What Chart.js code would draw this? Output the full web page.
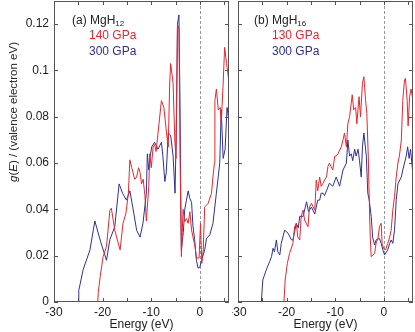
<!DOCTYPE html>
<html>
<head>
<meta charset="utf-8">
<script src="https://cdn.jsdelivr.net/npm/chart.js@4.4.0/dist/chart.umd.min.js"></script>
<style>
  body { margin: 0; background: #fff; }
  #wrap { position: relative; width: 415px; height: 332px; overflow: hidden;
          font-family: "Liberation Sans", Arial, sans-serif; color: #222; }
  #wrap canvas { position: absolute; top: 0; }
  #panelA { left: 0; }
  #panelB { left: 232px; }
  .txt { position: absolute; font-size: 12px; line-height: 14px; white-space: nowrap; }
  .txt sub { font-size: 8px; vertical-align: -2px; line-height: 0; }
  .red { color: rgb(232, 38, 45); }
  .blue { color: rgb(45, 48, 150); }
  #ytitle { position: absolute; left: -67px; top: 105px; width: 160px; height: 14px;
            font-size: 11.5px; line-height: 14px; text-align: center; transform: rotate(-90deg); }
</style>
</head>
<body>
<div id="wrap">
  <canvas id="panelA" width="232" height="332"></canvas>
  <canvas id="panelB" width="183" height="332"></canvas>
  <div id="ytitle"><i>g</i>(<i>E</i>) / (valence electron eV)</div>
  <div class="txt" style="left:72px;top:13px">(a) MgH<sub>12</sub></div>
  <div class="txt red" style="left:89px;top:28px">140 GPa</div>
  <div class="txt blue" style="left:89px;top:44px">300 GPa</div>
  <div class="txt" style="left:254px;top:13px">(b) MgH<sub>16</sub></div>
  <div class="txt red" style="left:272px;top:28px">130 GPa</div>
  <div class="txt blue" style="left:272px;top:44px">300 GPa</div>
</div>
<script>
// axes
const xTicks = [-30, -20, -10, 0];
const xTickLabels = ['-30', '-20', '-10', '0'];
const xMinorTicks = [-30, -25, -20, -15, -10, -5, 0, 5];
const yTicks = [0, 0.02, 0.04, 0.06, 0.08, 0.1, 0.12];
const yTickLabels = ['0', '0.02', '0.04', '0.06', '0.08', '0.1', '0.12'];

const RED = 'rgb(232, 38, 45)';
const BLUE = 'rgb(45, 48, 150)';

// (a) MgH12, 140 GPa
const eA140 = [-30, -21.0, -20.9, -20.5, -19.9, -19.2, -18.5, -18.2, -17.5, -16.4, -15.8, -15.2, -14.7, -14.4, -14.0,
  -13.4, -13.0, -12.6, -12.3, -12.0, -11.65, -11.3, -11.0, -10.5, -10.3, -10.0, -9.6, -9.3, -9.0, -8.6, -7.9, -7.4,
  -6.85, -6.5, -6.2, -6.0, -5.5, -5.15, -4.9, -4.6, -4.3, -4.05, -3.8, -3.45, -3.1, -2.75, -2.4, -2.05, -1.7, -1.0,
  -0.7, -0.15, 0.14, 0.4, 0.7, 1.0, 1.7, 2.4, 2.7, 3.0, 3.1, 3.4, 3.8, 4.2, 4.4, 4.8, 5.1, 5.5, 6.0];
const gA140 = [0, 0, 0.004, 0.011, 0.0196, 0.024, 0.0397, 0.0405, 0.031, 0.0225, 0.034, 0.0384, 0.047, 0.0614, 0.058,
  0.053, 0.054, 0.058, 0.056, 0.051, 0.053, 0.046, 0.035, 0.05, 0.064, 0.058, 0.067, 0.068, 0.065, 0.073, 0.087, 0.084,
  0.073, 0.067, 0.0945, 0.103, 0.0945, 0.07, 0.062, 0.12, 0.118, 0.06, 0.0196, 0.04, 0.0347, 0.036, 0.034, 0.039, 0.031, 0.024,
  0.019, 0.019, 0.034, 0.0167, 0.0225, 0.041, 0.0426, 0.047, 0.054, 0.06, 0.087, 0.092, 0.083, 0.084, 0.077, 0.0945, 0.11, 0.103, 0.095];

// (a) MgH12, 300 GPa
const eA300 = [-30, -25.0, -24.9, -24.0, -22.6, -21.6, -20.4, -19.2, -18.5, -17.5, -16.6, -15.9, -15.1, -14.4, -13.8,
  -13.0, -12.3, -11.7, -11.0, -10.8, -10.5, -10.2, -9.9, -9.3, -8.6, -7.9, -7.6, -7.2, -6.9, -6.5, -6.0, -5.5, -5.1,
  -4.8, -4.6, -4.3, -4.1, -3.9, -3.8, -3.4, -3.1, -2.75, -2.4, -2.1, -1.7, -1.4, -1.07, -0.7, -0.37, 0.0, 0.33, 1.0,
  1.38, 2.05, 2.7, 3.4, 4.1, 4.4, 4.8, 5.2, 5.6, 6.0];
const gA300 = [0, 0, 0.005, 0.014, 0.0225, 0.035, 0.026, 0.018, 0.027, 0.0325, 0.051, 0.047, 0.044, 0.048, 0.041,
  0.031, 0.028, 0.034, 0.047, 0.064, 0.057, 0.063, 0.067, 0.069, 0.066, 0.069, 0.063, 0.052, 0.056, 0.073, 0.072, 0.063, 0.047,
  0.08, 0.12, 0.124, 0.09, 0.04, 0.0225, 0.03, 0.04, 0.044, 0.048, 0.045, 0.043, 0.0325, 0.027, 0.018, 0.0146, 0.015, 0.018, 0.0225,
  0.0275, 0.029, 0.034, 0.047, 0.06, 0.083, 0.062, 0.066, 0.084, 0.078];

// (b) MgH16, 130 GPa
const eB130 = [-30, -20.55, -20.3, -19.85, -19.4, -18.7, -18.35, -18.0, -17.7, -17.3, -17.0, -16.6, -16.3, -15.6, -15.3,
  -14.9, -14.2, -13.9, -13.6, -13.2, -12.9, -12.5, -12.2, -11.8, -11.5, -11.2, -10.5, -10.1, -9.8, -9.45, -8.75, -8.4,
  -8.1, -7.7, -7.4, -7.05, -6.7, -6.5, -6.2, -5.8, -5.55, -5.1, -4.8, -4.4, -4.1, -3.75, -3.5, -3.2, -2.95, -2.8, -2.6,
  -1.9, -1.6, -1.2, -0.9, -0.55, -0.35, 0.0, 0.35, 0.8, 1.2, 1.5, 1.85, 2.2, 2.55, 2.9, 3.2, 3.6, 3.9, 4.25, 4.45, 4.8,
  5.0, 5.3, 5.6, 6.0];
const gB130 = [0, 0, 0.0095, 0.0167, 0.021, 0.0253, 0.0325, 0.034, 0.028, 0.0268, 0.037, 0.0397, 0.0354, 0.0325, 0.041,
  0.0426, 0.0397, 0.0527, 0.048, 0.054, 0.05, 0.0513, 0.0527, 0.054, 0.0585, 0.06, 0.057, 0.063, 0.063, 0.064, 0.067, 0.07,
  0.073, 0.067, 0.077, 0.08, 0.086, 0.0895, 0.083, 0.084, 0.077, 0.0887, 0.08, 0.0945, 0.0973, 0.087, 0.0815, 0.063, 0.0397, 0.028, 0.0196,
  0.021, 0.0253, 0.0275, 0.0325, 0.034, 0.025, 0.023, 0.0225, 0.0253, 0.028, 0.031, 0.0397, 0.0455, 0.054, 0.06, 0.063, 0.07, 0.087, 0.096, 0.0966, 0.087,
  0.076, 0.0887, 0.092, 0.087];

// (b) MgH16, 300 GPa
const eB300 = [-30, -25.2, -24.9, -24.2, -23.5, -23.1, -22.8, -22.5, -22.1, -21.8, -21.4, -21.1, -20.4, -19.7, -19.0,
  -18.7, -18.0, -17.6, -17.3, -16.6, -15.9, -15.5, -14.9, -14.2, -13.6, -13.2, -12.9, -12.5, -12.2, -11.8, -11.2, -10.5,
  -9.8, -9.1, -8.4, -7.7, -7.4, -7.05, -6.7, -6.4, -6.0, -5.7, -5.3, -5.0, -4.65, -4.4, -4.1, -3.6, -3.3, -3.0, -2.6,
  -2.3, -1.9, -1.6, -0.9, -0.55, -0.2, 0.15, 0.8, 1.2, 1.5, 1.85, 2.2, 2.55, 2.9, 3.6, 3.9, 4.6, 4.9, 5.2, 5.5, 5.9];
const gB300 = [0, 0, 0.0095, 0.0138, 0.0174, 0.0196, 0.0232, 0.0217, 0.0268, 0.0217, 0.0203, 0.0253, 0.031, 0.0297, 0.0268,
  0.0268, 0.034, 0.032, 0.037, 0.037, 0.0433, 0.039, 0.041, 0.038, 0.044, 0.044, 0.047, 0.047, 0.046, 0.048, 0.0513, 0.05,
  0.054, 0.05, 0.057, 0.06, 0.07, 0.063, 0.064, 0.061, 0.066, 0.063, 0.066, 0.061, 0.054, 0.067, 0.073, 0.063, 0.047, 0.044, 0.037,
  0.028, 0.0246, 0.0268, 0.0275, 0.0253, 0.0225, 0.0203, 0.0225, 0.0253, 0.0268, 0.0253, 0.031, 0.044, 0.051, 0.054, 0.057, 0.063, 0.067, 0.062, 0.066, 0.057];

Chart.defaults.font.family = "'Liberation Sans', Arial, sans-serif";
Chart.defaults.font.size = 12;
Chart.defaults.color = '#222';

function pts(xs, ys) {
  return xs.map((x, i) => ({ x: x, y: ys[i] }));
}

// frame, inward ticks and the dashed line at E = 0
const framePlugin = {
  id: 'frame',
  beforeDatasetsDraw(chart) {
    const { ctx, chartArea: a, scales: { x } } = chart;
    const x0 = Math.round(x.getPixelForValue(0)) + 0.5;
    ctx.save();
    ctx.strokeStyle = '#999';
    ctx.lineWidth = 1;
    ctx.setLineDash([3, 2]);
    ctx.beginPath();
    ctx.moveTo(x0, a.top);
    ctx.lineTo(x0, a.bottom);
    ctx.stroke();
    ctx.restore();
  },
  afterDatasetsDraw(chart) {
    const { ctx, chartArea: a, scales: { x, y } } = chart;
    const t = 4;
    ctx.save();
    ctx.strokeStyle = '#555';
    ctx.lineWidth = 1;
    ctx.strokeRect(a.left + 0.5, a.top + 0.5, a.width - 1, a.height - 1);
    ctx.beginPath();
    xMinorTicks.forEach(v => {
      const px = Math.round(x.getPixelForValue(v)) + 0.5;
      ctx.moveTo(px, a.bottom); ctx.lineTo(px, a.bottom - t);
      ctx.moveTo(px, a.top); ctx.lineTo(px, a.top + t);
    });
    yTicks.forEach(v => {
      const py = Math.round(y.getPixelForValue(v)) + 0.5;
      ctx.moveTo(a.left, py); ctx.lineTo(a.left + t, py);
      ctx.moveTo(a.right, py); ctx.lineTo(a.right - t, py);
    });
    ctx.stroke();
    ctx.restore();
  }
};

function makePanel(id, redE, redG, blueE, blueG, showY, yWidth, padRight) {
  new Chart(document.getElementById(id), {
    type: 'line',
    data: {
      datasets: [
        { data: pts(redE, redG), borderColor: RED, borderWidth: 1, pointRadius: 0, tension: 0 },
        { data: pts(blueE, blueG), borderColor: BLUE, borderWidth: 1, pointRadius: 0, tension: 0 }
      ]
    },
    options: {
      responsive: false,
      animation: false,
      layout: { padding: { top: 1, right: padRight, left: 0, bottom: 0 } },
      plugins: { legend: { display: false }, tooltip: { enabled: false } },
      scales: {
        x: {
          type: 'linear',
          min: -30,
          max: 6,
          grid: { display: false, drawTicks: false },
          border: { display: false },
          afterBuildTicks: s => { s.ticks = xTicks.map(v => ({ value: v })); },
          afterFit: s => { s.height = 30; s.paddingLeft = 0; s.paddingRight = 0; },
          ticks: {
            padding: 3,
            maxRotation: 0,
            callback: (v) => xTickLabels[xTicks.indexOf(v)]
          },
          title: { display: true, text: 'Energy (eV)', padding: { top: 0, bottom: 0 }, font: { size: 12 } }
        },
        y: {
          min: 0,
          max: 0.13,
          grid: { display: false, drawTicks: false },
          border: { display: false },
          afterBuildTicks: s => { s.ticks = yTicks.map(v => ({ value: v })); },
          afterFit: s => { s.width = yWidth; s.paddingTop = 0; s.paddingBottom = 0; },
          ticks: {
            display: showY,
            padding: 5,
            callback: (v) => yTickLabels[yTicks.indexOf(v)]
          }
        }
      }
    },
    plugins: [framePlugin]
  });
}

makePanel('panelA', eA140, gA140, eA300, gA300, true, 54, 3);
makePanel('panelB', eB130, gB130, eB300, gB300, false, 6, 2);
</script>
</body>
</html>
